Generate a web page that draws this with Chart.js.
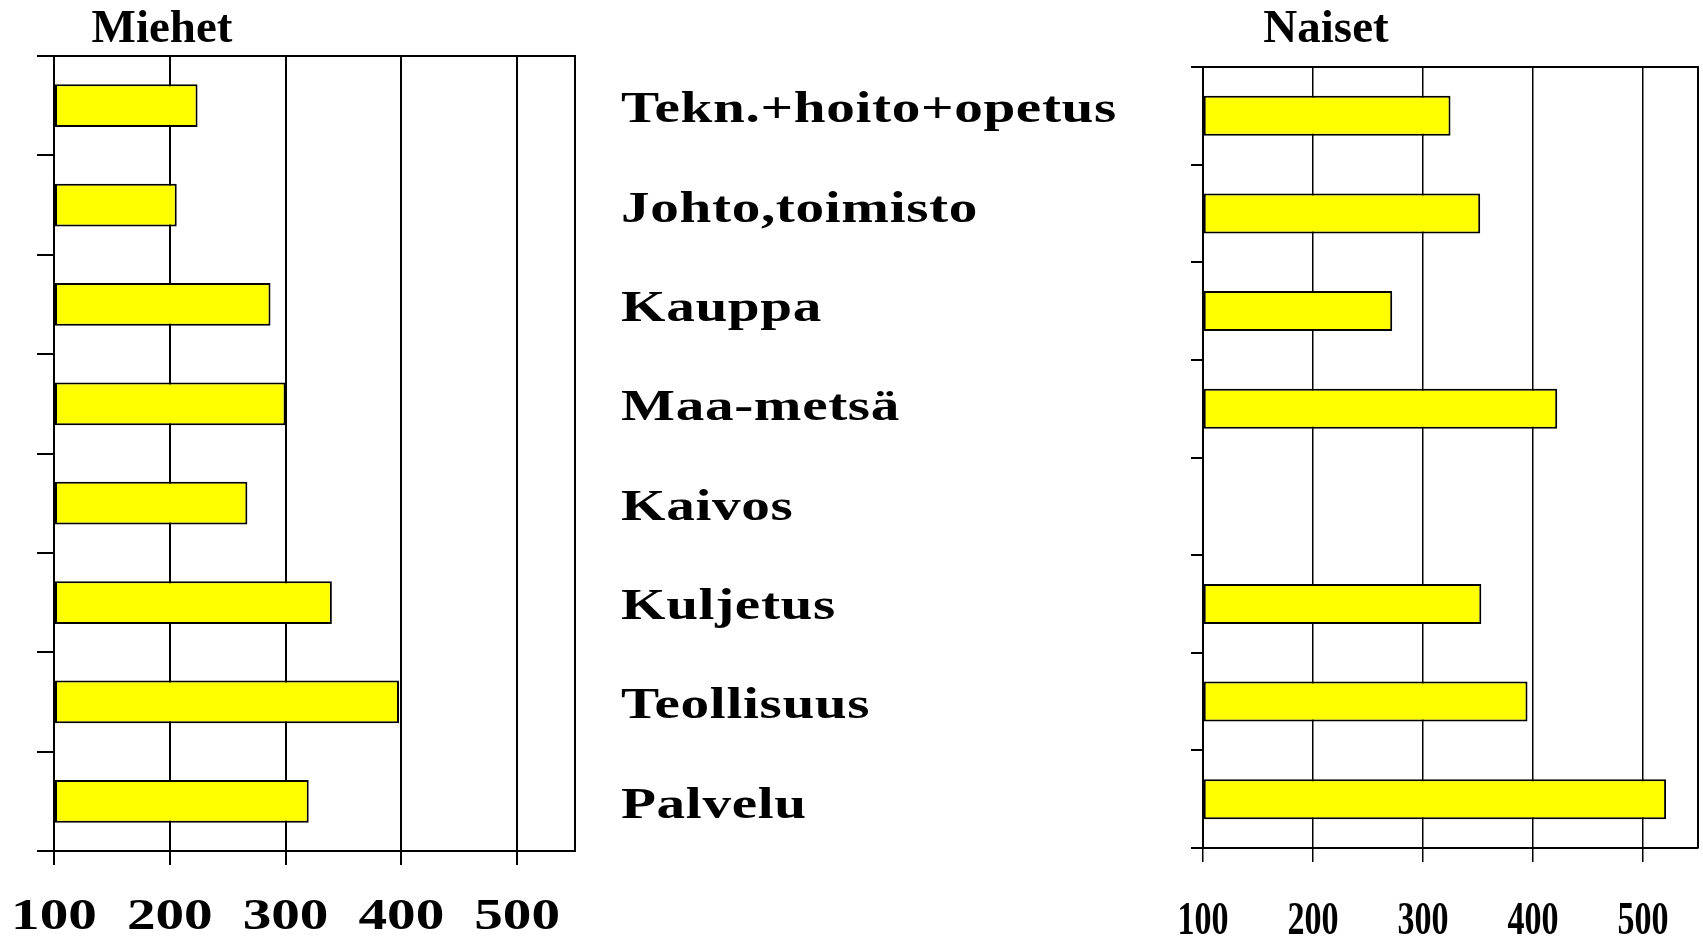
<!DOCTYPE html>
<html>
<head>
<meta charset="utf-8">
<script src="https://cdn.jsdelivr.net/npm/chart.js@4"></script>
<style>
  html, body { margin: 0; padding: 0; background: #fff; overflow: hidden; }
  #wrap { position: relative; width: 1703px; height: 938px; }
  canvas { position: absolute; top: 0; }
  #men { left: 0; }
  #women { left: 1150px; }
</style>
</head>
<body>
<div id="wrap">
  <canvas id="men" width="1150" height="938"></canvas>
  <canvas id="women" width="553" height="938"></canvas>
</div>
<script>
const categories = ['Tekn.+hoito+opetus', 'Johto,toimisto', 'Kauppa', 'Maa-metsä',
                    'Kaivos', 'Kuljetus', 'Teollisuus', 'Palvelu'];
const menValues = [224, 206, 287, 300, 267, 340, 398, 320];
const womenValues = [325, 352, 272, 422, null, 353, 395, 521];
const xTicks = [100, 200, 300, 400, 500];
const xMin = 100;
const xMax = 550;

// frame, stretched tick labels, title and (left only) category names
function makeFrame(s) {
  return {
    id: 'frame',
    afterDraw(chart) {
      const { ctx, chartArea: a, scales: { x, y } } = chart;
      ctx.save();
      ctx.strokeStyle = '#000';
      ctx.lineWidth = s.line;
      ctx.beginPath();
      ctx.moveTo(a.left, a.top);
      ctx.lineTo(a.right, a.top);
      ctx.lineTo(a.right, a.bottom);
      ctx.stroke();

      ctx.fillStyle = '#000';
      ctx.font = `bold ${s.tickSize}px "Liberation Serif"`;
      ctx.textAlign = 'center';
      ctx.textBaseline = 'alphabetic';
      x.ticks.forEach(t => {
        ctx.save();
        ctx.translate(x.getPixelForValue(t.value), s.tickY);
        ctx.scale(s.stretch, 1);
        ctx.fillText(String(t.value), 0, 0);
        ctx.restore();
      });

      ctx.font = 'bold 47px "Liberation Serif"';
      ctx.fillText(s.title, s.titleX, 42);

      if (s.names) {
        ctx.font = 'bold 44px "Liberation Serif"';
        ctx.textAlign = 'left';
        if ('letterSpacing' in ctx) ctx.letterSpacing = '0.5px';
        categories.forEach((c, i) => {
          ctx.save();
          ctx.translate(621, y.getPixelForValue(i) + 16.5);
          ctx.scale(1.3, 1);
          ctx.fillText(c, 0, 0);
          ctx.restore();
        });
      }
      ctx.restore();
    }
  };
}

function makeChart(id, values, s) {
  return new Chart(document.getElementById(id), {
    type: 'bar',
    data: {
      labels: categories,
      datasets: [{
        data: values,
        base: xMin,
        backgroundColor: '#ffff00',
        borderColor: '#000',
        borderWidth: 2,
        borderSkipped: false,
        barPercentage: s.bar,
        categoryPercentage: 1
      }]
    },
    options: {
      indexAxis: 'y',
      responsive: false,
      animation: false,
      devicePixelRatio: 1,
      layout: { padding: s.pad },
      plugins: { legend: { display: false }, tooltip: { enabled: false } },
      scales: {
        x: {
          type: 'linear', min: xMin, max: xMax,
          afterBuildTicks: sc => { sc.ticks = xTicks.map(v => ({ value: v })); },
          afterFit: sc => { sc.height = s.xTick; },
          ticks: { display: false },
          grid: { color: '#000', lineWidth: s.grid, tickLength: s.xTick },
          border: { color: '#000', width: s.line }
        },
        y: {
          afterFit: sc => { sc.width = s.yTick; },
          ticks: { display: false },
          grid: { drawOnChartArea: false, color: '#000', lineWidth: s.line, tickLength: s.yTick, offset: true },
          border: { color: '#000', width: s.line }
        }
      }
    },
    plugins: [makeFrame(s)]
  });
}

makeChart('men', menValues, {
  pad: { left: 37, right: 575, top: 56, bottom: 73 },
  xTick: 14, yTick: 17, line: 2, grid: 2, bar: 0.43,
  tickSize: 44, tickY: 929, stretch: 1.3,
  title: 'Miehet', titleX: 162, names: true
});

makeChart('women', womenValues, {
  pad: { left: 41, right: 5, top: 67, bottom: 76 },
  xTick: 14, yTick: 12, line: 2, grid: 1.5, bar: 0.41,
  tickSize: 46, tickY: 934, stretch: 0.74,
  title: 'Naiset', titleX: 176, names: false
});
</script>
</body>
</html>
